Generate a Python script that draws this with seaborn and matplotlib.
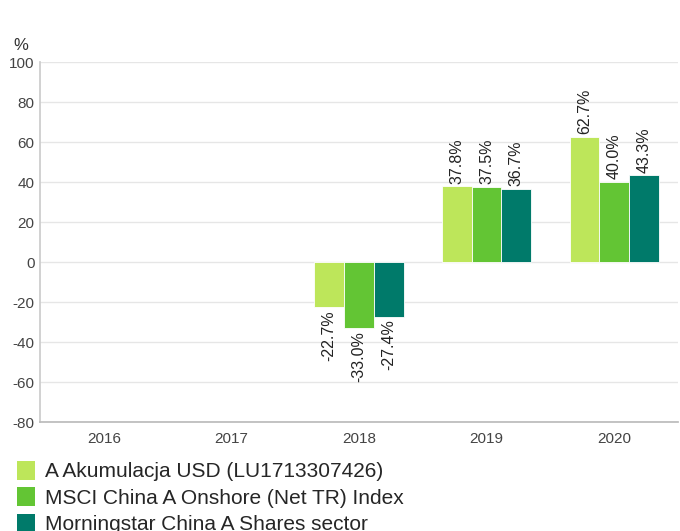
import pandas as pd
import numpy as np
import matplotlib
matplotlib.use('Agg')
import matplotlib.pyplot as plt
import seaborn as sns
from matplotlib.patches import Patch

# Dane
years = ['2016', '2017', '2018', '2019', '2020']
series_names = [
    'A Akumulacja USD (LU1713307426)',
    'MSCI China A Onshore (Net TR) Index',
    'Morningstar China A Shares sector',
]
fund = [np.nan, np.nan, -22.7, 37.8, 62.7]
index_msci = [np.nan, np.nan, -33.0, 37.5, 40.0]
sector = [np.nan, np.nan, -27.4, 36.7, 43.3]
colors = ['#BDE65A', '#63C534', '#007A6A']

df = pd.DataFrame({
    'Rok': years * 3,
    'Seria': np.repeat(series_names, len(years)),
    'Wartosc': fund + index_msci + sector,
})

sns.set_theme(style="white")
plt.rcParams['font.family'] = ['Liberation Sans', 'DejaVu Sans']
plt.rcParams['axes.unicode_minus'] = False

fig = plt.figure(figsize=(6.8, 5.31), dpi=100)
ax = fig.add_axes([40 / 680, 1 - 422 / 531, 638 / 680, 360 / 531])

sns.barplot(
    data=df.dropna(), x='Rok', y='Wartosc', hue='Seria',
    order=years, hue_order=series_names,
    palette=dict(zip(series_names, colors)), saturation=1,
    width=0.7, edgecolor='white', linewidth=0.6, ax=ax, legend=False,
)

for cont in ax.containers:
    ax.bar_label(cont, labels=[f'{v:.1f}%' for v in cont.datavalues],
                 rotation=90, padding=2, fontsize=11.5, color='#222222')

ax.set_ylim(-80, 100)
ax.set_yticks(range(-80, 101, 20))
ax.set_xlim(-0.5, 4.5)
ax.set_xlabel('')
ax.set_ylabel('')
ax.yaxis.grid(True, color='#e6e6e6', linewidth=1)
ax.set_axisbelow(True)
for s in ['top', 'right']:
    ax.spines[s].set_visible(False)
ax.spines['left'].set_color('#cccccc')
ax.spines['bottom'].set_color('#bbbbbb')
ax.tick_params(axis='both', labelsize=11, colors='#444444', length=0, pad=7)
ax.tick_params(axis='y', pad=4)

fig.text(13 / 680, 1 - 46 / 531, '%', fontsize=12, color='#333333', va='center')

handles = [Patch(facecolor=c, edgecolor='none') for c in colors]
fig.legend(handles, series_names, loc='upper left', bbox_to_anchor=(17 / 680, 1 - 461 / 531),
           frameon=False, fontsize=15, handlelength=0.85, handleheight=1.0,
           handletextpad=0.5, labelspacing=0.28, borderaxespad=0, borderpad=0)

fig.savefig('out.png', dpi=100)
